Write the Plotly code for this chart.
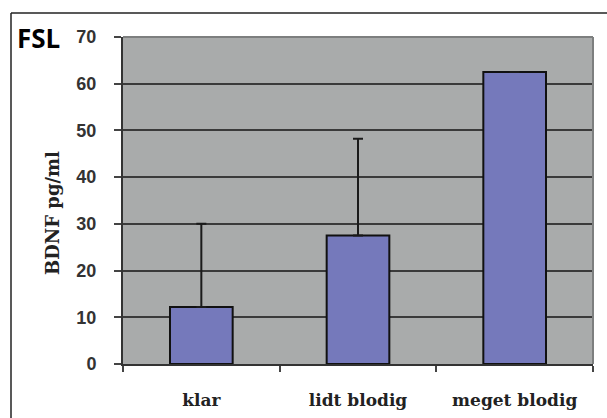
import plotly.graph_objects as go

categories = ["klar", "lidt blodig", "meget blodig"]
values = [12.2, 27.5, 62.5]
err_upper = [30.0, 48.2, None]
y_ticks = [0, 10, 20, 30, 40, 50, 60, 70]

err_plus = [(u - v) if u is not None else None for u, v in zip(err_upper, values)]

fig = go.Figure()
fig.add_trace(go.Bar(
    x=categories, y=values, width=0.4,
    marker=dict(color="#7579bb", line=dict(color="#111111", width=2)),
    error_y=dict(type="data", symmetric=False, array=err_plus,
                 arrayminus=[0, 0, 0], color="#1a1a1a", thickness=2, width=5),
))

W, H = 607, 418
L, R, T, B = 123, 14, 37, 54
pw, ph = W - L - R, H - T - B

def px(x):
    return (x - L) / pw

def py(y):
    return (H - B - y) / ph

fig.update_layout(
    width=W, height=H,
    margin=dict(l=L, r=R, t=T, b=B, autoexpand=False),
    paper_bgcolor="white", plot_bgcolor="#a9abab",
    showlegend=False, bargap=0.6,
    xaxis=dict(
        automargin=False,
        tickson="boundaries", ticks="outside", ticklen=6, tickwidth=1.5,
        tickcolor="#444", showline=True, linecolor="#333", linewidth=2,
        tickfont=dict(family="DejaVu Serif", size=17, color="#222", weight="bold"),
        ticklabelstandoff=20, showgrid=False,
    ),
    yaxis=dict(
        automargin=False,
        range=[0, 70], tickvals=y_ticks, ticks="outside", ticklen=7,
        tickwidth=1.5, tickcolor="#444", showline=True, linecolor="#333",
        linewidth=2, gridcolor="#3a3a3a", gridwidth=1.5, zeroline=False,
        tickfont=dict(family="Liberation Sans", size=18, color="#333", weight="bold"),
        ticklabelstandoff=14,
    ),
    shapes=[
        dict(type="line", xref="paper", yref="paper", x0=px(11), x1=px(607),
             y0=py(13), y1=py(13), line=dict(color="#222", width=1.5)),
        dict(type="line", xref="paper", yref="paper", x0=px(11), x1=px(11),
             y0=py(13), y1=py(418), line=dict(color="#222", width=1.5)),
        dict(type="line", xref="paper", yref="paper", x0=0, x1=1,
             y0=1, y1=1, line=dict(color="#7d7f7f", width=2)),
        dict(type="line", xref="paper", yref="paper", x0=1, x1=1,
             y0=0, y1=1, line=dict(color="#7d7f7f", width=2)),
    ],
    annotations=[
        dict(text="FSL", xref="paper", yref="paper", x=px(15), y=py(38),
             xanchor="left", yanchor="middle", showarrow=False,
             font=dict(family="Open Sans", size=26, color="#000", weight="bold")),
        dict(text="BDNF pg/ml", xref="paper", yref="paper", x=px(53), y=py(213),
             xanchor="center", yanchor="middle", showarrow=False, textangle=-90,
             font=dict(family="DejaVu Serif", size=18, color="#222", weight="bold")),
    ],
)

fig.write_html("out.html", config={"displayModeBar": False},
               post_script="document.body.style.margin='0';")
